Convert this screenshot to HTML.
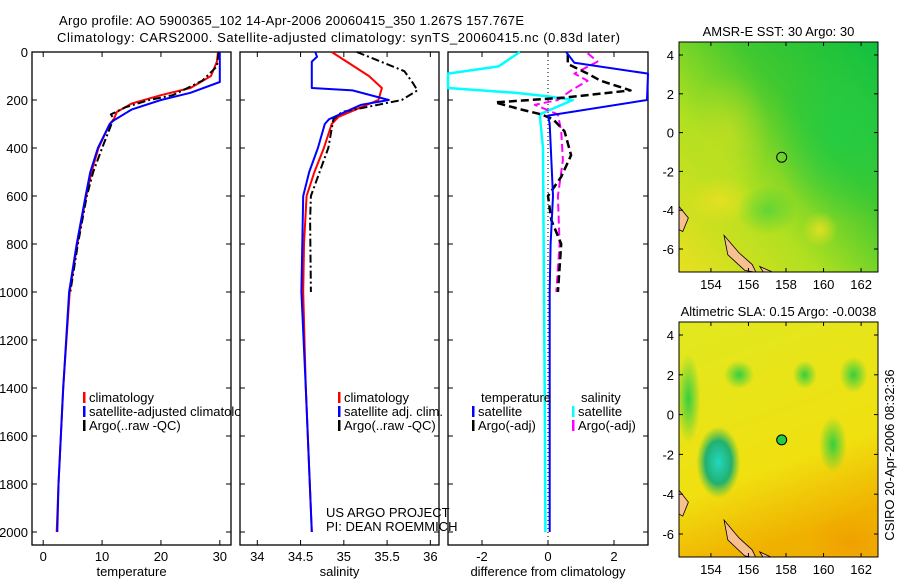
<!DOCTYPE html>
<html><head><meta charset="utf-8"><style>
body{margin:0;background:#fff;}
svg text{font-family:"Liberation Sans",sans-serif;font-size:13px;fill:#000;}
</style></head><body>
<svg id="fig" width="900" height="580" xmlns="http://www.w3.org/2000/svg">
<defs>
<radialGradient id="gBlob" cx="0.5" cy="0.5" r="0.5"><stop offset="0" stop-color="#22cc44" stop-opacity="0.9"/><stop offset="1" stop-color="#22cc44" stop-opacity="0"/></radialGradient>
<radialGradient id="cyBlob" cx="0.5" cy="0.5" r="0.5"><stop offset="0" stop-color="#22d8c0"/><stop offset="0.6" stop-color="#22b070"/><stop offset="1" stop-color="#44c040" stop-opacity="0"/></radialGradient>
<radialGradient id="yBlob" cx="0.5" cy="0.5" r="0.5"><stop offset="0" stop-color="#e8e020" stop-opacity="0.9"/><stop offset="1" stop-color="#e8e020" stop-opacity="0"/></radialGradient>
<radialGradient id="oBlob" cx="0.5" cy="0.5" r="0.5"><stop offset="0" stop-color="#f0a000"/><stop offset="1" stop-color="#f0a000" stop-opacity="0"/></radialGradient>
<linearGradient id="sstG" x1="0" y1="1" x2="1" y2="0"><stop offset="0" stop-color="#e8e020"/><stop offset="0.35" stop-color="#b0e020"/><stop offset="0.65" stop-color="#40c830"/><stop offset="1" stop-color="#10c040"/></linearGradient>
<linearGradient id="slaG" x1="0" y1="0" x2="0.3" y2="1"><stop offset="0" stop-color="#e0e820"/><stop offset="0.7" stop-color="#f0e010"/><stop offset="1" stop-color="#f0b000"/></linearGradient>
</defs>
<text x="59" y="25" textLength="465">Argo profile: AO 5900365_102 14-Apr-2006 20060415_350 1.267S 157.767E</text>
<text x="57" y="42" textLength="563">Climatology: CARS2000. Satellite-adjusted climatology: synTS_20060415.nc (0.83d later)</text>
<g id="panels"></g>
<g id="maps"></g>
<text transform="translate(894,455) rotate(-90)" text-anchor="middle">CSIRO 20-Apr-2006 08:32:36</text>
</svg>
<script>
// depths / values
const tDepth=[0,40,100,150,180,215,250,280,300,400,500,600,800,1000,1400,1800,2000];
const tClim=[29.7,29.5,28.5,25,20,15,12.5,12,11.3,9.4,8.2,7.3,5.8,4.5,3.4,2.6,2.3];
const tSatDepth=[0,125,170,200,240,285,300,400,500,600,800,1000,1400,1800,2000];
const tSat=[30,30,25,20,15,12,11.3,9.3,8,7.2,5.7,4.4,3.4,2.6,2.4];
const tArgoDepth=[0,60,120,180,200,230,260,280,300,400,500,600,800,1000];
const tArgo=[29.8,29.5,27,22,18,14,11.5,12,11.6,10,8.5,7.4,5.9,4.6];
const sClimDepth=[0,100,150,200,270,300,400,500,600,800,1000,1400,2000];
const sClim=[34.86,35.29,35.44,35.4,34.94,34.86,34.77,34.66,34.57,34.54,34.53,34.56,34.63];
const sSatDepth=[0,20,40,150,160,200,220,280,300,400,500,600,1000,1400,2000];
const sSat=[34.67,34.69,34.63,34.63,35.1,35.52,35.2,34.83,34.78,34.7,34.6,34.53,34.51,34.56,34.63];
const sArgoDepth=[0,80,130,160,200,250,280,400,500,600,700,1000];
const sArgo=[35.15,35.7,35.8,35.85,35.67,34.98,34.88,34.82,34.72,34.62,34.61,34.62];
const dTSatDepth=[0,45,90,200,265,300,600,800,1000,1400,2000];
const dTSat=[0.55,0.8,3.1,3.0,0,0.05,0.15,0.08,0.05,0.05,0.05];
const dTArgoDepth=[10,50,90,120,160,190,210,240,260,280,330,430,520,600,700,800,1000];
const dTArgo=[0.6,0.6,1.2,1.6,2.5,0.5,-1.6,-0.8,-0.2,0.15,0.5,0.7,0.4,0,0.1,0.4,0.3];
const dSSatDepth=[0,60,90,150,170,185,200,260,400,1000,1400,2000];
const dSSat=[-0.85,-1.5,-3.2,-3.2,-1,0,0.75,-0.25,-0.15,-0.12,-0.1,-0.08];
const dSArgoDepth=[5,40,90,120,160,200,220,260,330,450,600,800,1000];
const dSArgo=[1.2,1.5,0.8,1.2,0.7,0.3,-0.4,0.3,0.4,0.45,0.3,0.35,0.25];
const depthTicks=[0,200,400,600,800,1000,1200,1400,1600,1800,2000];
const tTicks=[0,10,20,30];
const sTicks=[34,34.5,35,35.5,36];
const dTicks=[-2,0,2];
const lonTicks=[154,156,158,160,162];
const latTicks=[4,2,0,-2,-4,-6];

const NS='http://www.w3.org/2000/svg';
const svg=document.getElementById('fig');
function mk(tag,at,parent){const e=document.createElementNS(NS,tag);for(const k in at)e.setAttribute(k,at[k]);(parent||svg).appendChild(e);return e;}
const Y0=52,YS=0.24;
const yD=d=>Y0+d*YS;
const panels=[
 {x0:32,x1:231,vmin:-1.9,vmax:31.9,ticks:tTicks,label:'temperature',name:'temperature-panel',labels:true},
 {x0:240,x1:439,vmin:33.8,vmax:36.1,ticks:sTicks,label:'salinity',name:'salinity-panel'},
 {x0:448,x1:648,vmin:-3.03,vmax:3.03,ticks:dTicks,label:'difference from climatology',name:'difference-panel'}
];
panels.forEach(p=>{p.sx=v=>p.x0+(v-p.vmin)/(p.vmax-p.vmin)*(p.x1-p.x0);});
const B=545;
function axes(p){
 const g=mk('g',{});
 
 
 mk('rect',{x:p.x0,y:Y0,width:p.x1-p.x0,height:B-Y0,fill:'none',stroke:'#000','stroke-width':1.3},g);
 p.ticks.forEach(t=>{const x=p.sx(t);
  mk('line',{x1:x,x2:x,y1:B,y2:B-5,stroke:'#000'},g);mk('line',{x1:x,x2:x,y1:Y0,y2:Y0+5,stroke:'#000'},g);
  const tx=mk('text',{x:x,y:B+16,'text-anchor':'middle'},g);tx.textContent=t;
  
  });
 depthTicks.forEach(d=>{const y=yD(d);
  mk('line',{x1:p.x0,x2:p.x0+5,y1:y,y2:y,stroke:'#000'},g);mk('line',{x1:p.x1,x2:p.x1-5,y1:y,y2:y,stroke:'#000'},g);
  if(p.labels){const tx=mk('text',{x:28,y:y+5,'text-anchor':'end'},g);tx.textContent=d;
   
   }});
 const xl=mk('text',{x:(p.x0+p.x1)/2,y:576,'text-anchor':'middle'},g);xl.textContent=p.label;
 
 
 return g;
}
function line(p,depths,vals,color,w,dash,name){
 const pts=depths.map((d,i)=>{let x=p.sx(vals[i]);x=Math.max(p.x0,Math.min(p.x1,x));return x.toFixed(1)+','+yD(d).toFixed(1);}).join(' ');
 const e=mk('polyline',{points:pts,fill:'none',stroke:color,'stroke-width':w,'stroke-linejoin':'round'});
 if(dash)e.setAttribute('stroke-dasharray',dash);
 
 
}
panels.forEach(axes);
const [P1,P2,P3]=panels;
line(P1,tDepth,tClim,'#f00',2,null,'temp-climatology-line');
line(P1,tArgoDepth,tArgo,'#000',2,'8,3,2,3','temp-argo-line');
line(P1,tSatDepth,tSat,'#00f',2,null,'temp-satellite-line');
line(P2,sClimDepth,sClim,'#f00',2,null,'sal-climatology-line');
line(P2,sArgoDepth,sArgo,'#000',2,'8,3,2,3','sal-argo-line');
line(P2,sSatDepth,sSat,'#00f',2,null,'sal-satellite-line');
const z=mk('line',{x1:P3.sx(0),x2:P3.sx(0),y1:Y0,y2:B,stroke:'#000','stroke-dasharray':'1,3'});


line(P3,dSSatDepth,dSSat,'#0ff',2.5,null,'dsal-satellite-line');
line(P3,dSArgoDepth,dSArgo,'#f0f',2,'8,4','dsal-argo-line');
line(P3,dTArgoDepth,dTArgo,'#000',2.5,'8,4','dtemp-argo-line');
line(P3,dTSatDepth,dTSat,'#00f',2,null,'dtemp-satellite-line');

function leg(x,y,color,txt,name,clip){
 const g=mk('g',{});
 
 
 if(color)mk('rect',{x:x,y:y-10,width:2.5,height:11,fill:color},g);
 const t=mk('text',{x:x+6,y:y},g);t.textContent=txt;
 if(clip)t.setAttribute('clip-path','url(#legclip)');
}
const lc=mk('clipPath',{id:'legclip'});mk('rect',{x:0,y:0,width:240,height:580},lc);
leg(83,402,'#f00','climatology','legend-climatology');
leg(83,416,'#00f','satellite-adjusted climatology','legend-satellite',true);
leg(83,430,'#000','Argo(..raw -QC)','legend-argo');
leg(338,402,'#f00','climatology','legend-sal-climatology');
leg(338,416,'#00f','satellite adj. clim.','legend-sal-satellite');
leg(338,430,'#000','Argo(..raw -QC)','legend-sal-argo');
leg(475,402,null,'temperature','legend-temp-header');
leg(472,416,'#00f','satellite','legend-dtemp-satellite');
leg(472,430,'#000','Argo(-adj)','legend-dtemp-argo');
leg(575,402,null,'salinity','legend-sal-header');
leg(572,416,'#0ff','satellite','legend-dsal-satellite');
leg(572,430,'#f0f','Argo(-adj)','legend-dsal-argo');
let t=mk('text',{x:326,y:517});t.textContent='US ARGO PROJECT';


t=mk('text',{x:326,y:531});t.textContent='PI: DEAN ROEMMICH';



const lonMin=152.3,lonMax=162.9;
function map(y0,y1,title,kind,name){
 const x0=679,x1=878;
 const g=mk('g',{});
 
 
 const lat4=y0+13,latm6=y1-23; const ps=(latm6-lat4)/10;
 const sy=la=>lat4+(4-la)*ps, sx=lo=>x0+(lo-lonMin)/(lonMax-lonMin)*(x1-x0);
 const cp='clip'+name;const c=mk('clipPath',{id:cp},g);mk('rect',{x:x0,y:y0,width:x1-x0,height:y1-y0},c);
 const m=mk('g',{'clip-path':'url(#'+cp+')'},g);
 if(kind==='sst'){
  mk('rect',{x:x0,y:y0,width:x1-x0,height:y1-y0,fill:'url(#sstG)'},m);
  mk('ellipse',{cx:sx(161),cy:sy(0),rx:70,ry:90,fill:'url(#gBlob)'},m);
  mk('ellipse',{cx:sx(155),cy:sy(0),rx:40,ry:60,fill:'url(#yBlob)',opacity:0.5},m);
  mk('ellipse',{cx:sx(154.5),cy:sy(-3.5),rx:35,ry:25,fill:'url(#yBlob)'},m);
  mk('ellipse',{cx:sx(159.8),cy:sy(-5),rx:18,ry:18,fill:'url(#yBlob)'},m);
  mk('ellipse',{cx:sx(157),cy:sy(-4),rx:30,ry:25,fill:'url(#gBlob)',opacity:0.6},m);
 } else {
  mk('rect',{x:x0,y:y0,width:x1-x0,height:y1-y0,fill:'url(#slaG)'},m);
  mk('ellipse',{cx:sx(154.4),cy:sy(-2.4),rx:22,ry:36,fill:'url(#cyBlob)'},m);
  mk('ellipse',{cx:sx(152.8),cy:sy(0.8),rx:12,ry:45,fill:'url(#gBlob)'},m);
  mk('ellipse',{cx:sx(161.5),cy:sy(-6.5),rx:45,ry:30,fill:'url(#oBlob)'},m);
  mk('ellipse',{cx:sx(160.5),cy:sy(-1.5),rx:14,ry:28,fill:'url(#gBlob)'},m);
  mk('ellipse',{cx:sx(161.6),cy:sy(2),rx:14,ry:18,fill:'url(#gBlob)'},m);
  mk('ellipse',{cx:sx(155.5),cy:sy(2),rx:15,ry:14,fill:'url(#gBlob)'},m);
  mk('ellipse',{cx:sx(159),cy:sy(2),rx:12,ry:14,fill:'url(#gBlob)'},m);
 }
 mk('path',{d:`M${sx(152.3)},${sy(-3.8)} L${sx(152.8)},${sy(-4.4)} L${sx(152.5)},${sy(-5.1)} L${sx(152.3)},${sy(-5)} Z`,fill:'#f8c090',stroke:'#000','stroke-width':0.8},m);
 mk('path',{d:`M${sx(154.7)},${sy(-5.3)} L${sx(155.5)},${sy(-6.2)} L${sx(156.2)},${sy(-6.8)} L${sx(156.4)},${sy(-7.2)} L${sx(155.8)},${sy(-7.1)} L${sx(154.9)},${sy(-6.3)} Z`,fill:'#f8c090',stroke:'#000','stroke-width':0.8},m);
 mk('path',{d:`M${sx(156.6)},${sy(-6.9)} L${sx(157.3)},${sy(-7.2)} L${sx(157.8)},${sy(-7.5)} L${sx(157)},${sy(-7.5)} Z`,fill:'#f8c090',stroke:'#000','stroke-width':0.8},m);
 const pt=mk('circle',{cx:sx(157.77),cy:sy(-1.27),r:5,fill:kind==='sst'?'none':'#22cc44',stroke:'#000'},g);
 
 
 mk('rect',{x:x0,y:y0,width:x1-x0,height:y1-y0,fill:'none',stroke:'#000'},g);
 lonTicks.forEach(lo=>{const x=sx(lo);mk('line',{x1:x,x2:x,y1:y1,y2:y1-4,stroke:'#000'},g);mk('line',{x1:x,x2:x,y1:y0,y2:y0+4,stroke:'#000'},g);
  const tx=mk('text',{x:x,y:y1+17,'text-anchor':'middle'},g);tx.textContent=lo;
  
  });
 latTicks.forEach(la=>{const y=sy(la);mk('line',{x1:x0,x2:x0+4,y1:y,y2:y,stroke:'#000'},g);mk('line',{x1:x1,x2:x1-4,y1:y,y2:y,stroke:'#000'},g);
  const tx=mk('text',{x:x0-5,y:y+5,'text-anchor':'end'},g);tx.textContent=la;
  
  });
 const tt=mk('text',{x:(x0+x1)/2,y:y0-6,'text-anchor':'middle'},g);tt.textContent=title;
 
 
}
map(42,272,'AMSR-E SST: 30 Argo: 30','sst','sst-map');
map(322,557,'Altimetric SLA: 0.15 Argo: -0.0038','sla','sla-map');
</script>
</body></html>
